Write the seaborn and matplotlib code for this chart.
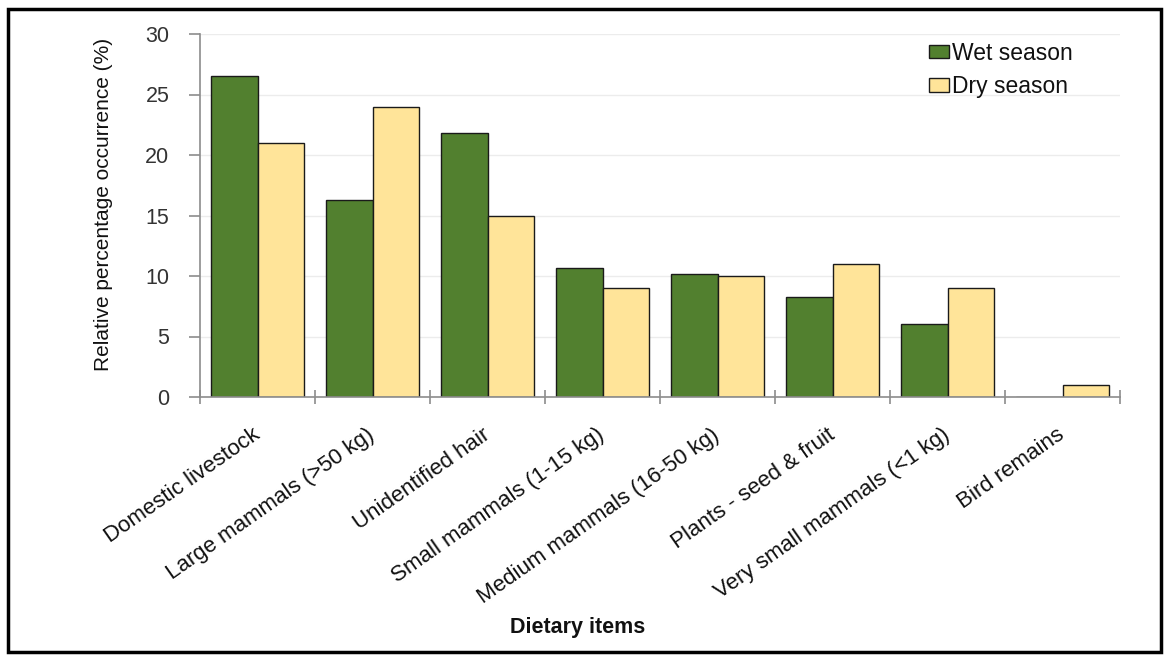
import matplotlib
matplotlib.use("Agg")
import matplotlib.pyplot as plt
from matplotlib.patches import Patch, Rectangle
import pandas as pd
import seaborn as sns

categories = [
    "Domestic livestock",
    "Large mammals (>50 kg)",
    "Unidentified hair",
    "Small mammals (1-15 kg)",
    "Medium mammals (16-50 kg)",
    "Plants - seed & fruit",
    "Very small mammals (<1 kg)",
    "Bird remains",
]
wet_season = [26.5, 16.3, 21.8, 10.7, 10.2, 8.3, 6.0, 0.0]
dry_season = [21.0, 24.0, 15.0, 9.0, 10.0, 11.0, 9.0, 1.0]
series_names = ["Wet season", "Dry season"]
y_ticks = [0, 5, 10, 15, 20, 25, 30]

GREEN = "#52802F"
YELLOW = "#FFE499"

df = pd.DataFrame({
    "item": categories * 2,
    "season": [series_names[0]] * len(categories) + [series_names[1]] * len(categories),
    "value": wet_season + dry_season,
})

sns.set_theme(style="white")
plt.rcParams["font.family"] = ["Liberation Sans", "DejaVu Sans"]

fig = plt.figure(figsize=(11.69, 6.61), dpi=100)
ax = fig.add_axes([200 / 1169, 1 - 397 / 661, 920 / 1169, 363 / 661])

sns.barplot(
    data=df, x="item", y="value", hue="season", order=categories,
    hue_order=series_names, palette={series_names[0]: GREEN, series_names[1]: YELLOW},
    width=0.81, edgecolor="#1a1a1a", linewidth=1.0, saturation=1, ax=ax, legend=False,
)

ax.set_xlim(-0.5, len(categories) - 0.5)
ax.set_ylim(0, 30)
ax.set_yticks(y_ticks)
ax.set_yticklabels([str(t) for t in y_ticks])
ax.yaxis.grid(True, color="#ececec", linewidth=1.0)
ax.set_axisbelow(True)

for side in ("top", "right"):
    ax.spines[side].set_visible(False)
for side in ("left", "bottom"):
    ax.spines[side].set_color("#8c8c8c")
    ax.spines[side].set_linewidth(1.2)

ax.tick_params(axis="y", which="major", direction="out", length=8, width=1.2,
               color="#8c8c8c", labelsize=15.5, labelcolor="#333333", pad=14, left=True)

# category boundaries carry the x tick marks; centres carry the labels
ax.set_xticks([i - 0.5 for i in range(len(categories) + 1)], minor=True)
ax.tick_params(axis="x", which="minor", direction="inout", length=10, width=1.2,
               color="#8c8c8c", bottom=True)
ax.set_xticks(range(len(categories)))
ax.set_xticklabels(categories, rotation=35, ha="right", rotation_mode="anchor",
                   va="center")
ax.tick_params(axis="x", which="major", length=0, labelsize=16,
               labelcolor="#111111", pad=26)

ax.set_xlabel("")
ax.set_ylabel("Relative percentage occurrence (%)", fontsize=15, color="#111111")
ax.yaxis.set_label_coords(-0.095, 0.53)

fig.text(578 / 1169, 1 - 628 / 661, "Dietary items", fontsize=15.5, fontweight="bold",
         ha="center", va="center", color="#111111")

handles = [Patch(facecolor=GREEN, edgecolor="#1a1a1a", linewidth=1.0),
           Patch(facecolor=YELLOW, edgecolor="#1a1a1a", linewidth=1.0)]
ax.legend(handles, series_names, loc="upper left", bbox_to_anchor=(0.78, 1.01),
          frameon=False, fontsize=16.5, handlelength=0.85, handleheight=0.5,
          handletextpad=0.15, labelspacing=0.45, borderpad=0, labelcolor="#111111")

fig.patches.append(Rectangle((8 / 1169, 9 / 661), 1153 / 1169, 643 / 661,
                             transform=fig.transFigure, fill=False,
                             edgecolor="black", linewidth=2.5))

fig.savefig("out.png", dpi=100, facecolor="white")
